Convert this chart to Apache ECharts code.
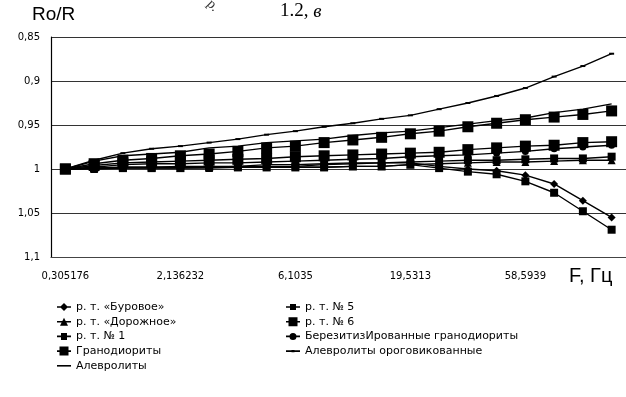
<!DOCTYPE html>
<html><head><meta charset="utf-8">
<script src="https://cdn.jsdelivr.net/npm/echarts@6/dist/echarts.min.js"></script>
<style>html,body{margin:0;padding:0;background:#fff}#c{width:626px;height:397px}</style>
</head><body><div id="c"></div><script>
// Frequencies (Hz) — categories
const freqs = ["0,305176","0,610352","0,915527","1,525879","2,136232","3,051758","3,967285","4,882813","6,1035","9,155273","12,207031","15,258789","19,5313","29,296875","39,0625","48,828125","58,5939","97,65625","136,71875","195,3125"];
// Y tick range
const yTicks = [0.85, 0.9, 0.95, 1, 1.05, 1.1];

// Series values Ro/R
const buroVals    = [1.000,0.999,0.998,0.998,0.998,0.998,0.997,0.997,0.997,0.995,0.994,0.993,0.993,0.997,1.000,1.002,1.007,1.017,1.036,1.055];
const dorozhVals  = [1.000,1.000,0.999,0.999,0.999,0.999,0.998,0.998,0.998,0.998,0.997,0.997,0.995,0.994,0.993,0.992,0.992,0.991,0.990,0.990];
const rt1Vals     = [1.000,0.999,0.999,0.999,0.999,0.998,0.998,0.998,0.998,0.998,0.997,0.997,0.995,0.999,1.003,1.006,1.014,1.027,1.048,1.069];
const granodVals  = [1.000,0.994,0.990,0.988,0.985,0.983,0.980,0.976,0.974,0.970,0.967,0.964,0.960,0.957,0.952,0.948,0.944,0.941,0.938,0.934];
const alevVals    = [1.000,0.991,0.985,0.983,0.981,0.976,0.974,0.970,0.968,0.966,0.962,0.959,0.957,0.953,0.949,0.945,0.942,0.936,0.932,0.926];
const rt5Vals     = [1.000,0.999,0.998,0.998,0.997,0.997,0.997,0.995,0.995,0.994,0.993,0.993,0.992,0.991,0.990,0.990,0.989,0.988,0.988,0.986];
const rt6Vals     = [1.000,0.996,0.993,0.992,0.991,0.990,0.989,0.988,0.986,0.985,0.984,0.983,0.982,0.981,0.978,0.976,0.974,0.973,0.970,0.969];
const berezVals   = [1.000,0.998,0.995,0.994,0.994,0.993,0.993,0.992,0.991,0.990,0.989,0.988,0.986,0.985,0.984,0.982,0.980,0.977,0.975,0.973];
const alevOrogVals= [1.000,0.990,0.982,0.977,0.974,0.970,0.966,0.961,0.957,0.952,0.948,0.943,0.939,0.932,0.925,0.917,0.908,0.895,0.883,0.869];

const names = ["р. т. «Буровое»","р. т. «Дорожное»","р. т. № 1","Гранодиориты","Алевролиты","р. т. № 5","р. т. № 6","БерезитизИрованные гранодиориты","Алевролиты ороговикованные"];

const LINE = 'M0,4.2H14V5.8H0Z';
const icons = [
  'path://' + LINE + 'M7,1L11,5L7,9L3,5Z',
  'path://' + LINE + 'M7,1L11,9L3,9Z',
  'path://' + LINE + 'M4,1.5H10V8.5H4Z',
  'path://' + LINE + 'M2.5,0.5H11.5V9.5H2.5Z',
  'path://' + LINE,
  'path://' + LINE + 'M4,2H10V8H4Z',
  'path://' + LINE + 'M2.5,0.5H11.5V9.5H2.5Z',
  'path://' + LINE + 'M10.5,5A3.5,3.5 0 1 1 3.5,5A3.5,3.5 0 1 1 10.5,5Z',
  'path://' + LINE + 'M5.5,3.8H8.5V6.2H5.5Z'
];

function mk(name, data, symbol, size) {
  return {
    name, type: 'line', data, symbol, symbolSize: size,
    showSymbol: symbol !== 'none',
    lineStyle: { color: '#000', width: 1.4 },
    itemStyle: { color: '#000' },
    emphasis: { disabled: true },
    animation: false
  };
}

const chart = echarts.init(document.getElementById('c'), null, { renderer: 'canvas' });
const legendText = { fontFamily: 'DejaVu Sans', fontSize: 11, color: '#000', lineHeight: 14 };
const legendData = names.map((n, i) => ({ name: n, icon: icons[i], itemStyle: { color: '#000' } }));
chart.setOption({
  animation: false,
  backgroundColor: '#fff',
  grid: { left: 51, top: 37, width: 576, height: 220 },
  xAxis: {
    type: 'category', data: freqs, boundaryGap: true,
    axisLine: { onZero: false, lineStyle: { color: '#444', width: 1.2 } },
    axisTick: { show: false },
    axisLabel: { interval: 3, margin: 14, fontFamily: 'DejaVu Sans', fontSize: 10, color: '#000' },
    splitLine: { show: false }
  },
  yAxis: {
    type: 'value', inverse: true, min: yTicks[0], max: yTicks[yTicks.length - 1], interval: 0.05,
    axisLine: { show: true, lineStyle: { color: '#000', width: 1.2 } },
    axisTick: { show: false },
    axisLabel: { margin: 11, fontFamily: 'DejaVu Sans', fontSize: 10, color: '#000',
      formatter: v => String(+v.toFixed(2)).replace('.', ',') },
    splitLine: { show: true, lineStyle: { color: '#333', width: 1.2 } }
  },
  legend: [
    { orient: 'vertical', left: 52, top: 295, itemWidth: 14, itemHeight: 10, itemGap: 0.7,
      data: legendData.slice(0, 5), textStyle: legendText, selectedMode: false },
    { orient: 'vertical', left: 281, top: 295, itemWidth: 14, itemHeight: 10, itemGap: 0.7,
      data: legendData.slice(5), textStyle: legendText, selectedMode: false }
  ],
  graphic: [
    { type: 'text', left: 32, top: 5, style: { text: 'Ro/R', font: '19px "Liberation Sans"', fill: '#000' } },
    { type: 'text', left: 569, top: 266, style: { text: 'F, Гц', font: '20px "Liberation Sans"', fill: '#000' } },
    { type: 'text', left: 280, top: 2, style: { text: '{a|1.2, }{b|в}', rich: {
        a: { fontFamily: 'Liberation Serif', fontSize: 19, fill: '#000' },
        b: { fontFamily: 'Liberation Serif', fontSize: 19, fontStyle: 'italic', fill: '#000' } } } },
    { type: 'text', x: 209, y: 2, rotation: -Math.PI / 4, style: { text: 'р.', font: '14px "Liberation Serif"', fill: '#333', verticalAlign: 'middle' } }
  ],
  series: [
    mk(names[0], buroVals, 'diamond', 8),
    mk(names[1], dorozhVals, 'triangle', 8),
    mk(names[2], rt1Vals, 'rect', 8),
    mk(names[3], granodVals, 'rect', 11),
    mk(names[4], alevVals, 'none', 0),
    mk(names[5], rt5Vals, 'rect', 8),
    mk(names[6], rt6Vals, 'rect', 11),
    mk(names[7], berezVals, 'circle', 7),
    mk(names[8], alevOrogVals, 'rect', [5, 2])
  ]
});
</script></body></html>
